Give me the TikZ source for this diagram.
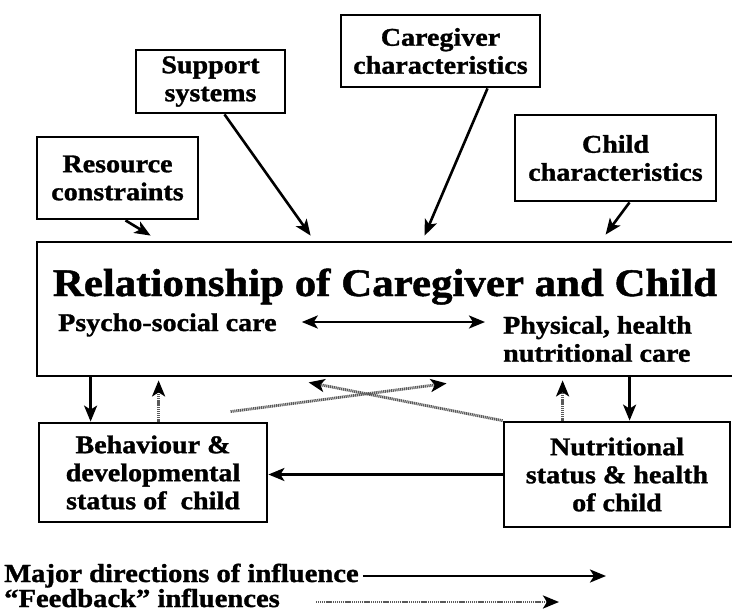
\documentclass[tikz,border=0pt]{standalone}
\usepackage{fontspec}
\setmainfont{Liberation Serif}[FakeStretch=1.1, BoldFeatures={FakeBold=1.2}]
\usetikzlibrary{arrows.meta,calc}

\tikzset{
  box/.style={draw=black, line width=2.8pt, fill=white, inner sep=0pt,
    align=center, font=\fontsize{25.5}{28}\selectfont\bfseries},
  lbl/.style={inner sep=0pt, font=\fontsize{25.5}{28}\selectfont\bfseries},
  legend/.style={inner sep=0pt, anchor=base west, font=\fontsize{26}{26}\selectfont\bfseries},
  major/.style={draw=black, line width=2.6pt, -{Stealth[length=16pt,width=13pt,inset=4pt]}},
  feedback/.style={draw=black!65, line width=2.8pt, dash pattern=on 1.2pt off 0.7pt,
    -{Stealth[length=16pt,width=13pt,inset=4pt,color=black]}},
}

\begin{document}
\begin{tikzpicture}[x=1pt,y=-1pt]
  \useasboundingbox[fill=white] (0,0) rectangle (732,614);

  % outside influences
  \node[box, minimum width=149, minimum height=63] (sup) at (210.5,81.5) {Support\\systems};
  \node[box, minimum width=199, minimum height=72] (care) at (440.5,51) {Caregiver\\characteristics};
  \node[box, minimum width=161, minimum height=82] (res) at (117.5,178) {Resource\\constraints};
  \node[box, minimum width=201, minimum height=86] (chi) at (615.5,158) {Child\\characteristics};

  % central relationship box
  \node[box, minimum width=708, minimum height=134] (main) at (391,309) {};
  \node[lbl, font=\fontsize{39}{39}\selectfont\bfseries, anchor=base] (title) at (385,296)
    {Relationship of Caregiver and Child};
  \node[lbl, anchor=base west] (psy) at (58,331) {Psycho-social care};
  \node[lbl, align=left, anchor=west] (phy) at (503,339) {Physical, health\\nutritional care};

  % outcomes
  \node[box, minimum width=228, minimum height=99] (beh) at (153,472.5)
    {Behaviour \&\\developmental\\status of\ \ child};
  \node[box, minimum width=226, minimum height=105] (nut) at (617,474.5)
    {Nutritional\\status \& health\\of child};

  % influences on the relationship
  \draw[major] ([xshift=8pt]res.south) -- ([xshift=115pt,yshift=5pt]main.north west);
  \draw[major] ([xshift=14pt]sup.south) -- ([xshift=275pt,yshift=5pt]main.north west);
  \draw[major] ([xshift=47pt]care.south) -- ([xshift=389pt,yshift=5pt]main.north west);
  \draw[major] ([xshift=14pt]chi.south) -- ([xshift=570pt,yshift=6pt]main.north west);

  % two kinds of care
  \draw[major, {Stealth[length=16pt,width=13pt,inset=4pt]}-{Stealth[length=16pt,width=13pt,inset=4pt]}]
    ([xshift=25pt,yshift=9pt]psy.base east) -- ([xshift=-18pt,yshift=17pt]phy.west);

  % major directions between relationship and outcomes
  \draw[major] ([xshift=55pt]main.south west) -- ([xshift=53pt]beh.north west);
  \draw[major] ([xshift=594pt]main.south west) -- ([xshift=127pt]nut.north west);
  \draw[major] (nut.west) -- (beh.east |- nut.west);

  % feedback
  \draw[feedback] ([xshift=121pt]beh.north west) -- ([xshift=123pt,yshift=-3pt]main.south west);
  \draw[feedback] ([xshift=60pt]nut.north west) -- ([xshift=527pt,yshift=-3pt]main.south west);
  \draw[feedback] ([xshift=193pt,yshift=10pt]beh.north west) -- ([xshift=411pt,yshift=-6pt]main.south west);
  \draw[feedback] (nut.north west) -- ([xshift=273pt,yshift=-5pt]main.south west);

  % legend
  \node[legend] (legmaj) at (4,582) {Major directions of influence};
  \node[legend] (legfb) at (4,607) {“Feedback” influences};
  \coordinate (legmajend) at (606,576);
  \coordinate (legfbend) at (559,602);
  \draw[major] ([xshift=4pt]legmaj.east |- legmajend) -- (legmajend);
  \draw[feedback] ([xshift=36pt]legfb.east |- legfbend) -- (legfbend);
\end{tikzpicture}
\end{document}
